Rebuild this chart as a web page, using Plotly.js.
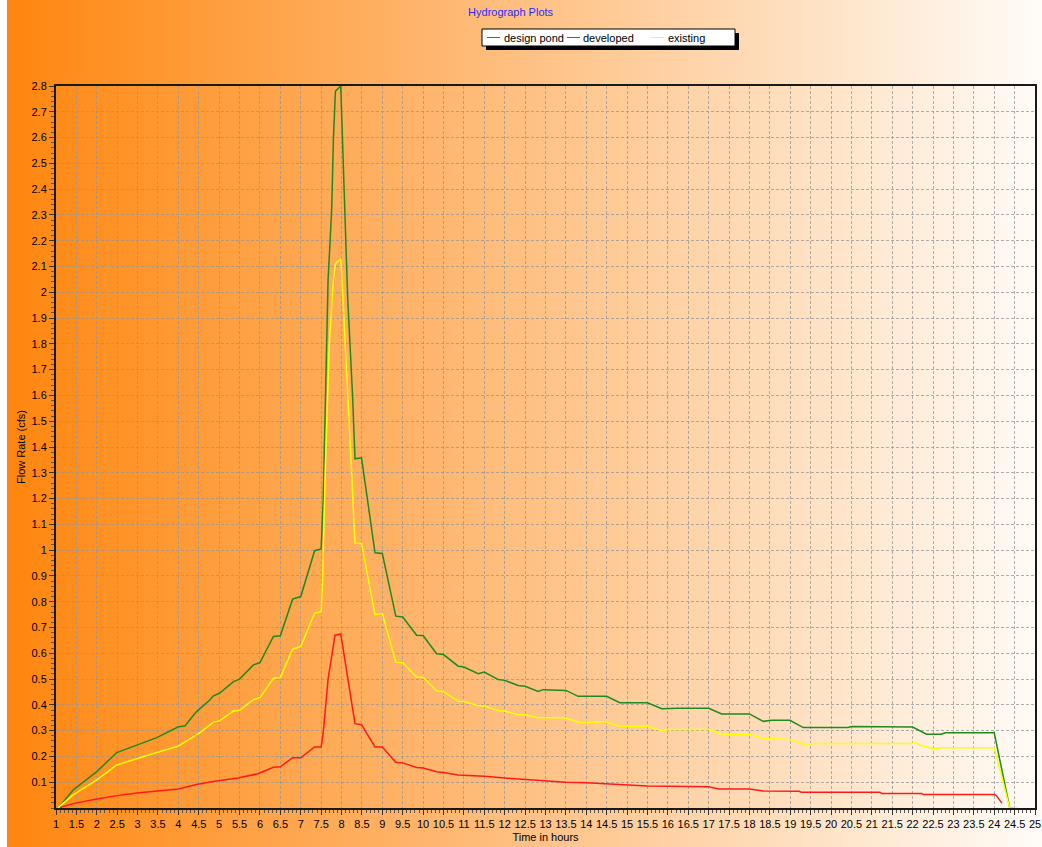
<!DOCTYPE html>
<html>
<head>
<meta charset="utf-8">
<script src="https://cdn.plot.ly/plotly-3.0.1.min.js"></script>
<style>
  html, body { margin: 0; padding: 0; background: #ffffff; }
  #chart {
    width: 1042px; height: 847px;
    background: linear-gradient(to right, #ffffff 0px, #ffffff 7px, rgb(255,134,14) 7px, rgb(254,192,130) 50%, rgb(255,252,248) 100%);
  }
</style>
</head>
<body>
<div id="chart"></div>
<script>
// ---- data (hours, cfs) ----
const devTime = [1.05, 1.1, 1.42, 2.0, 2.49, 2.98, 3.47, 4.0, 4.16, 4.44, 4.53, 4.77, 4.86, 5.0, 5.35, 5.5, 5.84, 6.0, 6.33, 6.5, 6.8, 7.0, 7.34, 7.5, 7.55, 7.6, 7.67, 7.72, 7.76, 7.8, 7.82, 7.85, 7.98, 8.0, 8.04, 8.08, 8.12, 8.15, 8.27, 8.33, 8.49, 8.82, 9.0, 9.33, 9.5, 9.84, 10.0, 10.33, 10.5, 10.86, 11.0, 11.35, 11.5, 11.84, 12.0, 12.33, 12.5, 12.82, 12.94, 13.5, 13.8, 14.5, 14.82, 15.42, 15.5, 15.85, 16.25, 17.0, 17.32, 18.0, 18.34, 18.55, 18.99, 19.32, 20.42, 20.5, 22.0, 22.34, 22.7, 22.8, 24.0, 24.38, 24.5];
const devFlow = [0, 0.008, 0.07, 0.141, 0.215, 0.244, 0.273, 0.315, 0.318, 0.373, 0.385, 0.419, 0.435, 0.444, 0.49, 0.50, 0.555, 0.564, 0.665, 0.668, 0.81, 0.82, 0.998, 1.005, 1.19, 1.55, 2.05, 2.2, 2.33, 2.59, 2.71, 2.78, 2.8, 2.7, 2.47, 2.3, 2.1, 1.98, 1.6, 1.354, 1.358, 0.99, 0.987, 0.744, 0.741, 0.67, 0.669, 0.598, 0.595, 0.55, 0.547, 0.521, 0.527, 0.498, 0.495, 0.475, 0.472, 0.452, 0.459, 0.456, 0.433, 0.433, 0.408, 0.41, 0.408, 0.385, 0.387, 0.387, 0.365, 0.365, 0.336, 0.34, 0.34, 0.312, 0.312, 0.316, 0.314, 0.286, 0.286, 0.292, 0.292, 0, 0];

const exTime = [1.05, 1.1, 1.42, 2.0, 2.49, 2.98, 3.47, 4.0, 4.44, 4.53, 4.86, 5.0, 5.35, 5.5, 5.84, 6.0, 6.33, 6.5, 6.8, 7.0, 7.34, 7.5, 7.53, 7.6, 7.7, 7.8, 7.85, 7.98, 8.0, 8.08, 8.16, 8.22, 8.27, 8.33, 8.49, 8.82, 9.0, 9.33, 9.5, 9.84, 10.0, 10.33, 10.5, 10.86, 11.0, 11.35, 11.5, 11.84, 12.0, 12.33, 12.5, 12.82, 13.45, 13.84, 14.09, 14.45, 14.82, 15.5, 15.85, 16.0, 17.0, 17.35, 18.0, 18.34, 18.99, 19.32, 19.6, 21.98, 22.05, 22.2, 22.5, 22.7, 24.0, 24.38, 24.58];
const exFlow = [0, 0.008, 0.051, 0.109, 0.167, 0.192, 0.215, 0.24, 0.285, 0.292, 0.333, 0.337, 0.376, 0.379, 0.42, 0.428, 0.503, 0.506, 0.616, 0.626, 0.756, 0.761, 0.85, 1.3, 1.8, 2.05, 2.11, 2.13, 2.08, 1.85, 1.58, 1.39, 1.2, 1.028, 1.026, 0.75, 0.754, 0.565, 0.563, 0.508, 0.507, 0.455, 0.451, 0.414, 0.413, 0.397, 0.395, 0.378, 0.376, 0.362, 0.362, 0.35, 0.35, 0.332, 0.332, 0.335, 0.317, 0.317, 0.30, 0.304, 0.304, 0.286, 0.286, 0.27, 0.266, 0.247, 0.25, 0.25, 0.256, 0.243, 0.23, 0.234, 0.234, 0, 0];

const pondTime = [1.06, 1.2, 1.42, 2.0, 2.49, 2.98, 3.47, 4.0, 4.44, 4.93, 5.46, 5.95, 6.33, 6.5, 6.8, 7.0, 7.34, 7.5, 7.55, 7.67, 7.84, 7.98, 8.33, 8.49, 8.82, 9.0, 9.33, 9.5, 9.84, 10.0, 10.33, 10.5, 10.86, 11.5, 12.0, 12.5, 13.0, 13.5, 14.0, 14.5, 15.0, 15.5, 17.0, 17.25, 18.0, 18.34, 19.22, 19.27, 21.2, 21.25, 22.22, 22.27, 24.0, 24.05, 24.19];
const pondFlow = [0, 0.006, 0.017, 0.035, 0.048, 0.058, 0.065, 0.074, 0.091, 0.105, 0.116, 0.133, 0.158, 0.16, 0.195, 0.195, 0.237, 0.237, 0.29, 0.5, 0.67, 0.675, 0.327, 0.323, 0.237, 0.237, 0.177, 0.175, 0.157, 0.155, 0.141, 0.138, 0.128, 0.123, 0.116, 0.11, 0.104, 0.1, 0.098, 0.094, 0.09, 0.085, 0.082, 0.074, 0.074, 0.066, 0.065, 0.061, 0.061, 0.056, 0.056, 0.052, 0.052, 0.048, 0.019];

const seriesNames = ['design pond', 'developed', 'existing'];
const seriesColors = ['#ff1a1a', '#1f8a1f', '#ffff00'];
const xTickVals = [];
for (let v = 1; v <= 25.001; v += 0.5) xTickVals.push(Math.round(v * 10) / 10);
const xTickText = xTickVals.map(v => String(v));
const yTickVals = [];
for (let v = 1; v <= 28; v++) yTickVals.push(v / 10);
const yTickText = yTickVals.map(v => String(v));

const lineW = 1.5;
const traces = [
  { x: pondTime, y: pondFlow, name: seriesNames[0], type: 'scatter', mode: 'lines', line: { color: seriesColors[0], width: lineW } },
  { x: devTime, y: devFlow, name: seriesNames[1], type: 'scatter', mode: 'lines', line: { color: seriesColors[1], width: lineW } },
  { x: exTime, y: exFlow, name: seriesNames[2], type: 'scatter', mode: 'lines', line: { color: seriesColors[2], width: lineW } }
];

const font = { family: 'Liberation Sans, Arial, sans-serif', size: 11, color: '#000' };

// ---- custom legend (pixel layout converted to paper coords) ----
const M = { l: 56, r: 7, t: 86, b: 39 };
const PW = 1042 - M.l - M.r, PH = 847 - M.t - M.b;
const px = v => (v - M.l) / PW;
const py = v => (847 - M.b - v) / PH;
const legBox = { x0: 482, x1: 735, y0: 29, y1: 46 };
const legItems = [
  { lx0: 487, lx1: 500, tx: 503 },
  { lx0: 567, lx1: 580, tx: 582 },
  { lx0: 651, lx1: 664, tx: 667 }
];
const legY = 37.5;
const shapes = [
  { type: 'rect', xref: 'paper', yref: 'paper', x0: px(legBox.x0 + 4), x1: px(legBox.x1 + 4), y0: py(legBox.y1 + 4), y1: py(legBox.y0 + 4), fillcolor: '#000', line: { width: 0 }, layer: 'above' },
  { type: 'rect', xref: 'paper', yref: 'paper', x0: px(legBox.x0), x1: px(legBox.x1), y0: py(legBox.y1), y1: py(legBox.y0), fillcolor: '#fff', line: { color: '#000', width: 1 }, layer: 'above' }
];
const annotations = [];
legItems.forEach((it, i) => {
  shapes.push({ type: 'line', xref: 'paper', yref: 'paper', x0: px(it.lx0), x1: px(it.lx1), y0: py(legY), y1: py(legY), line: { color: seriesColors[i], width: 1 }, layer: 'above' });
  annotations.push({ xref: 'paper', yref: 'paper', x: px(it.tx), y: py(legY), xanchor: 'left', yanchor: 'middle', text: seriesNames[i], showarrow: false, borderpad: 0, font: { family: font.family, size: 11, color: '#000' } });
});

const layout = {
  width: 1042, height: 847,
  paper_bgcolor: 'rgba(0,0,0,0)',
  plot_bgcolor: 'rgba(0,0,0,0)',
  margin: { l: M.l, r: M.r, t: M.t, b: M.b, pad: 0 },
  font: font,
  title: { text: 'Hydrograph Plots', font: { family: font.family, size: 11, color: '#2b2bff' }, x: 0.49, xref: 'container', y: 0.986, yref: 'container', yanchor: 'middle' },
  showlegend: false,
  shapes: shapes,
  annotations: annotations,
  xaxis: {
    range: [1, 25], tickmode: 'array', tickvals: xTickVals, ticktext: xTickText,
    ticks: 'outside', ticklen: 5, tickcolor: '#333', tickwidth: 1,
    showgrid: true, gridcolor: 'rgba(150,150,150,0.75)', griddash: '3px,2px', gridwidth: 1,
    showline: true, linecolor: '#1a1a1a', linewidth: 2, mirror: true,
    zeroline: false,
    minor: { dtick: 0.1, ticks: 'outside', ticklen: 3, tickcolor: '#555', showgrid: false },
    tickfont: { family: font.family, size: 11, color: '#000' },
    title: { text: 'Time in hours', font: { family: font.family, size: 11, color: '#000' }, standoff: 4 }
  },
  yaxis: {
    range: [0, 2.8], tickmode: 'array', tickvals: yTickVals, ticktext: yTickText,
    ticks: 'outside', ticklen: 5, tickcolor: '#333', tickwidth: 1,
    showgrid: true, gridcolor: 'rgba(150,150,150,0.75)', griddash: '3px,2px', gridwidth: 1,
    showline: true, linecolor: '#1a1a1a', linewidth: 2, mirror: true,
    zeroline: false,
    minor: { dtick: 0.02, ticks: 'outside', ticklen: 3, tickcolor: '#555', showgrid: false },
    tickfont: { family: font.family, size: 11, color: '#000' },
    title: { text: 'Flow Rate (cfs)', font: { family: font.family, size: 11, color: '#000' }, standoff: 4 }
  }
};

Plotly.newPlot('chart', traces, layout, { displayModeBar: false, staticPlot: true });
</script>
</body>
</html>
